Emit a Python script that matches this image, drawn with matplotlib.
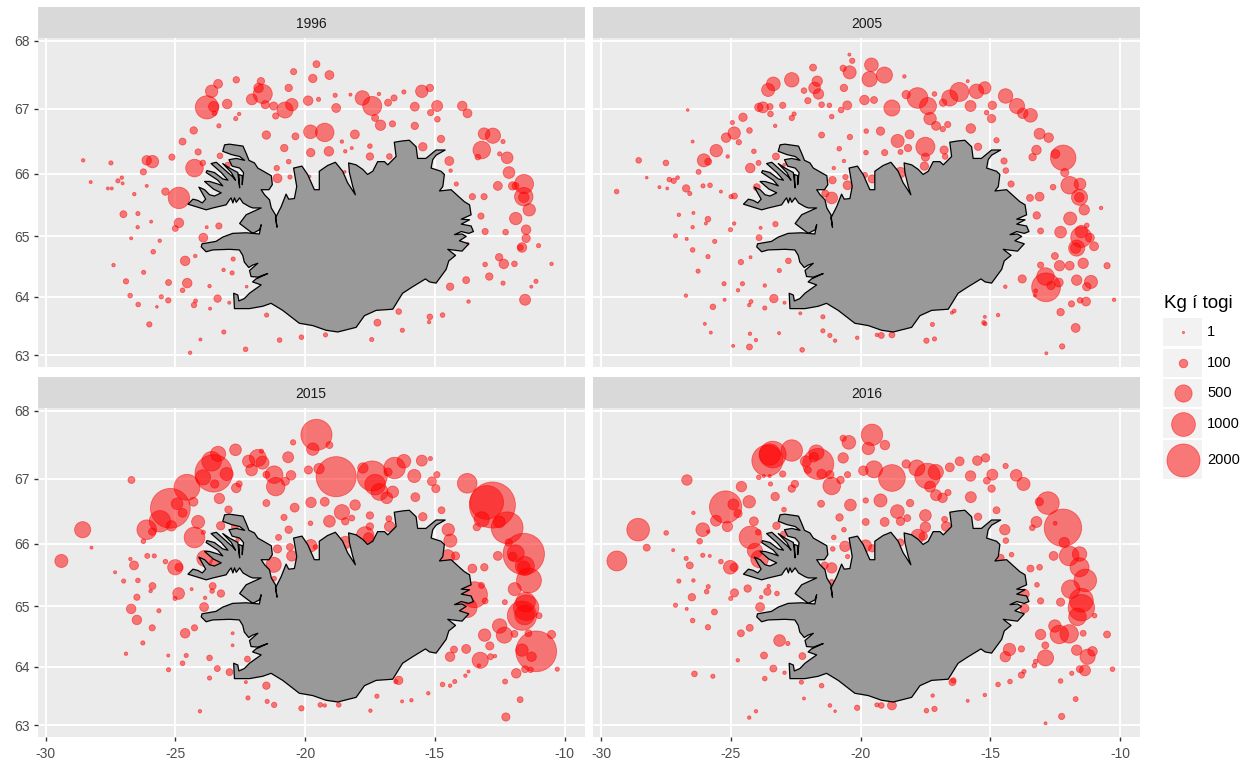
#!/usr/bin/env python3
"""Kg í togi: fjórar kortamyndir af Íslandi, 1996, 2005, 2015 og 2016"""

import numpy as np
import matplotlib
matplotlib.use('Agg')
import matplotlib.pyplot as plt
from matplotlib.patches import Polygon, Rectangle

plt.rcParams['font.family'] = ['Liberation Sans', 'DejaVu Sans']
plt.rcParams['axes.unicode_minus'] = False

years = [1996, 2005, 2015, 2016]
x_ticks = [-30, -25, -20, -15, -10]
y_ticks = [63, 64, 65, 66, 67, 68]
legend_kg = [1, 100, 500, 1000, 2000]

# (lon, lat, kg)
pts_1996 = [
    (-19.56,67.66,60),(-20.44,67.55,45),(-19.06,67.50,110),(-19.70,67.45,95),(-23.35,67.37,110),(-22.65,67.43,50),
    (-21.70,67.41,70),(-23.60,67.26,240),(-21.79,67.31,130),(-20.63,67.31,70),(-21.63,67.22,620),(-23.78,67.02,950),
    (-23.52,67.03,160),(-23.0,67.07,130),(-22.05,67.14,180),(-21.53,67.06,90),(-21.21,67.04,90),(-20.51,67.06,240),
    (-20.77,66.98,430),(-21.13,66.89,45),(-19.88,67.12,130),(-19.48,67.14,15),(-18.84,67.2,15),(-18.25,67.21,5),
    (-17.79,67.16,340),(-17.41,67.04,620),(-17.15,67.22,8),(-16.80,67.09,60),(-16.57,67.16,45),(-16.19,67.25,15),
    (-18.8,67.01,110),(-17.3,66.86,60),(-17.09,66.75,160),(-16.63,66.77,45),(-15.5,67.26,240),(-15.19,67.31,70),
    (-15.77,67.03,110),(-14.91,67.04,180),(-15.16,66.94,45),(-14.9,66.84,35),(-13.94,67.04,130),(-13.74,66.93,110),
    (-15.77,66.74,70),(-14.76,66.54,70),(-15.46,66.42,95),(-13.1,66.62,210),(-12.76,66.59,380),(-12.37,66.5,15),
    (-13.19,66.37,520),(-13.34,66.26,35),(-12.5,66.31,15),(-12.21,66.25,210),(-12.14,66.02,210),(-14.44,66.2,110),
    (-14.39,66.05,8),(-14.17,65.84,15),(-11.56,65.84,620),(-12.57,65.81,110),(-12.0,65.81,95),(-11.89,65.81,60),
    (-11.57,65.64,580),(-11.57,65.63,160),(-11.36,65.43,240),(-13.55,65.64,45),(-13.1,65.64,45),(-13.22,65.33,45),
    (-11.88,65.29,240),(-13.06,65.08,45),(-12.27,65.07,35),(-11.48,65.11,130),(-11.48,64.97,95),(-11.64,64.82,130),
    (-11.7,64.82,35),(-11.0,64.85,15),(-13.74,64.88,5),(-10.5,64.55,8),(-12.52,64.66,70),(-12.34,64.55,130),
    (-11.93,64.55,35),(-13.06,64.54,20),(-12.9,64.34,70),(-11.1,64.26,15),(-12.37,64.23,15),(-11.28,64.17,5),
    (-13.79,64.28,60),(-14.41,64.17,70),(-11.52,63.95,180),(-13.7,63.92,8),(-16.39,63.75,35),(-15.19,63.66,35),
    (-15.22,63.57,8),(-14.7,63.69,20),(-17.21,63.56,60),(-16.25,63.43,15),(-17.43,63.27,15),(-19.21,63.35,15),
    (-20.14,63.31,20),(-20.98,63.26,20),(-22.29,63.1,20),(-23.13,63.4,15),(-24.03,63.27,5),(-24.43,63.04,8),
    (-21.48,63.69,15),(-23.66,63.8,5),(-23.37,63.97,70),(-22.92,63.9,5),(-24.28,63.86,30),(-24.22,63.93,12),
    (-25.27,63.94,30),(-25.54,64.0,15),(-25.71,63.83,3),(-26.0,63.53,30),(-26.43,63.87,20),(-26.74,64.02,20),
    (-26.9,64.26,30),(-26.22,64.41,15),(-27.38,64.53,8),(-25.85,64.75,20),(-25.26,64.24,40),(-24.54,64.23,130),
    (-24.72,64.11,20),(-23.68,64.18,8),(-22.25,64.17,3),(-24.62,64.6,130),(-24.23,64.68,8),(-25.6,64.93,8),
    (-26.7,64.97,5),(-26.45,65.15,8),(-25.93,65.24,5),(-27.0,65.36,60),(-26.44,65.37,15),(-24.86,65.22,130),
    (-25.0,65.13,40),(-23.79,65.15,5),(-23.32,65.17,45),(-23.92,64.98,110),(-22.77,64.63,15),(-23.14,64.45,8),
    (-22.81,64.4,15),(-24.86,65.62,800),(-25.38,65.72,70),(-26.58,65.68,8),(-26.1,65.81,5),(-27.6,65.77,5),
    (-27.45,65.77,5),(-27.21,65.89,15),(-27.06,65.94,8),(-27.03,65.85,5),(-28.26,65.87,5),(-26.23,66.03,45),
    (-28.55,66.21,8),(-27.48,66.17,15),(-26.1,66.21,130),(-25.88,66.19,240),(-25.13,66.26,45),(-24.26,66.09,520),
    (-23.94,66.17,35),(-24.12,66.34,45),(-23.28,66.28,35),(-22.98,66.14,30),(-24.72,66.5,60),(-24.29,66.67,70),
    (-23.32,66.74,15),(-22.67,66.85,15),(-22.54,66.92,8),(-23.49,66.93,20),(-21.49,66.6,95),(-20.37,66.58,60),
    (-19.79,66.65,300),(-19.24,66.64,580),(-18.08,66.61,110),(-18.58,66.5,8),(-20.8,66.4,70),(-19.78,66.33,95),
    (-19.08,66.35,130),(-18.45,66.35,8),(-18.2,66.4,5),(-17.5,66.43,20),(-17.5,66.27,70),(-16.75,66.27,35),
    (-20.63,66.19,20),(-21.09,66.09,30),(-21.06,65.93,110),(-20.58,65.95,15),(-19.82,65.96,2),(-18.47,66.03,3),
]

pts_2005 = [
    (-20.43,67.8,5),(-20.32,67.71,30),(-19.58,67.65,300),(-20.67,67.6,45),(-20.42,67.54,270),(-21.83,67.61,60),
    (-19.08,67.5,430),(-19.65,67.44,380),(-18.31,67.48,8),(-22.65,67.43,340),(-23.36,67.37,300),(-23.56,67.28,270),
    (-21.67,67.41,160),(-21.77,67.31,210),(-21.62,67.22,160),(-20.64,67.31,70),(-22.18,67.27,35),(-22.03,67.12,45),
    (-15.87,67.41,5),(-16.19,67.25,620),(-15.21,67.31,240),(-15.53,67.26,340),(-16.56,67.16,430),(-17.15,67.22,20),
    (-18.24,67.21,95),(-17.8,67.16,740),(-17.4,67.04,480),(-16.82,67.09,70),(-15.76,67.04,180),(-14.92,67.05,95),
    (-14.41,67.19,340),(-13.97,67.04,380),(-13.75,66.93,160),(-13.45,66.9,300),(-15.14,66.94,20),(-14.95,66.85,95),
    (-19.85,67.13,130),(-19.48,67.13,60),(-18.79,67.01,430),(-20.51,67.05,110),(-20.75,66.98,35),(-21.2,67.05,20),
    (-21.5,67.06,35),(-23.0,67.05,45),(-23.49,67.03,45),(-23.76,67.02,180),(-23.92,67.02,95),(-23.47,66.92,35),
    (-22.65,66.86,30),(-22.56,66.92,15),(-21.11,66.88,20),(-26.66,66.98,3),(-24.53,66.87,95),(-24.94,66.79,15),
    (-23.29,66.74,8),(-24.28,66.67,35),(-24.87,66.63,240),(-25.18,66.56,130),(-24.69,66.49,30),(-26.47,66.5,5),
    (-25.56,66.36,240),(-24.11,66.35,20),(-25.12,66.27,8),(-26.04,66.21,270),(-25.87,66.19,60),(-26.24,66.03,25),
    (-28.55,66.21,35),(-27.5,66.17,35),(-28.24,65.94,3),(-27.37,65.91,20),(-27.2,65.89,30),(-27.05,65.94,10),
    (-27.75,65.79,5),(-27.45,65.77,4),(-26.72,65.77,70),(-26.58,65.69,15),(-26.07,65.81,15),(-25.8,65.82,20),
    (-25.38,65.72,5),(-24.99,65.64,15),(-24.86,65.65,40),(-29.4,65.72,20),(-27.0,65.35,8),(-26.44,65.38,5),
    (-25.88,65.28,35),(-25.96,65.21,5),(-26.47,65.15,8),(-24.87,65.21,8),(-25.01,65.11,15),(-23.85,65.14,5),
    (-23.28,65.2,30),(-27.13,65.01,15),(-26.7,64.96,5),(-25.62,64.92,15),(-23.91,64.98,40),(-26.47,64.78,20),
    (-25.88,64.67,15),(-24.24,64.66,5),(-24.61,64.58,30),(-22.78,64.6,35),(-23.13,64.44,15),(-26.26,64.43,15),
    (-25.26,64.22,15),(-24.55,64.22,15),(-24.72,64.11,8),(-23.69,64.19,8),(-26.73,64.02,8),(-25.24,63.95,5),
    (-24.22,63.92,12),(-24.29,63.86,8),(-23.34,63.97,95),(-23.69,63.81,15),(-22.93,63.9,5),(-25.69,63.83,35),
    (-22.32,63.72,5),(-21.45,63.66,15),(-26.0,63.54,5),(-25.77,63.39,5),(-24.26,63.37,8),(-23.14,63.38,5),
    (-24.03,63.26,8),(-24.91,63.16,5),(-24.28,63.14,40),(-22.25,63.09,20),(-21.45,63.42,15),(-21.18,63.34,15),
    (-20.98,63.25,8),(-20.13,63.3,8),(-19.37,63.35,8),(-19.2,63.34,40),(-18.79,63.35,40),(-17.46,63.25,30),
    (-17.15,63.28,15),(-17.23,63.53,15),(-16.48,63.73,5),(-16.39,63.76,12),(-15.21,63.66,5),(-15.25,63.56,15),
    (-15.2,63.54,12),(-14.7,63.69,8),(-12.84,63.03,5),(-12.23,63.15,30),(-11.71,63.47,110),(-12.29,63.74,70),
    (-11.87,63.88,45),(-11.54,63.94,35),(-11.31,63.92,110),(-10.23,63.95,8),(-12.85,64.16,1500),(-12.87,64.34,520),
    (-13.28,64.02,5),(-13.25,64.1,12),(-12.66,64.19,95),(-12.36,64.24,110),(-13.06,64.53,45),(-12.51,64.68,60),
    (-12.33,64.52,160),(-11.94,64.52,110),(-11.42,64.56,160),(-10.5,64.52,45),(-11.67,64.28,160),(-11.12,64.25,270),
    (-11.28,64.17,95),(-13.77,64.3,90),(-14.42,64.17,8),(-14.2,65.84,45),(-14.4,66.05,35),(-14.47,66.2,45),
    (-14.76,66.52,30),(-15.47,66.42,70),(-15.75,66.7,130),(-16.64,66.76,45),(-16.83,66.69,30),(-17.09,66.74,110),
    (-17.32,66.85,240),(-18.11,66.61,110),(-18.57,66.51,270),(-19.23,66.66,95),(-19.78,66.66,20),(-20.41,66.57,30),
    (-21.5,66.6,40),(-18.17,66.4,70),(-18.46,66.34,25),(-17.5,66.42,620),(-17.5,66.26,90),(-17.54,66.12,95),
    (-16.78,66.37,90),(-16.74,66.27,35),(-19.07,66.33,45),(-19.79,66.33,20),(-20.82,66.39,20),(-20.64,66.2,8),
    (-21.03,66.09,8),(-21.08,65.9,70),(-20.58,65.95,30),(-20.5,65.82,110),(-19.83,65.98,30),(-19.55,65.92,90),
    (-18.46,66.02,160),(-21.11,65.62,210),(-21.36,65.69,60),(-23.26,66.27,60),(-23.93,66.17,25),(-24.25,66.09,130),
    (-22.94,66.14,5),(-24.0,65.79,60),(-13.47,65.62,60),(-13.1,65.64,110),(-12.58,65.79,35),(-13.1,66.62,180),
    (-12.75,66.56,130),(-13.22,66.37,130),(-13.37,66.26,70),(-12.19,66.25,1150),(-12.49,66.31,110),(-12.13,66.02,90),
    (-11.94,65.82,520),(-11.54,65.84,210),(-11.56,65.63,430),(-11.57,65.63,130),(-11.38,65.43,160),(-10.73,65.46,8),
    (-11.92,65.29,270),(-13.21,65.34,70),(-13.06,65.09,40),(-12.29,65.07,210),(-11.28,65.18,20),(-11.49,65.08,240),
    (-11.5,64.99,740),(-11.16,64.98,110),(-11.67,64.81,430),(-11.71,64.81,160),(-11.0,64.84,110),
]

pts_2015 = [
    (-19.56,67.65,1760),(-19.70,67.44,240),(-19.06,67.5,60),(-20.46,67.54,30),(-22.68,67.43,210),(-23.35,67.37,380),
    (-23.6,67.26,660),(-23.52,67.08,2600),(-23.93,67.02,380),(-23.02,67.07,270),(-23.48,66.92,95),(-24.55,66.87,1200),
    (-25.19,66.55,2950),(-24.93,66.62,210),(-24.72,66.48,110),(-25.59,66.35,800),(-25.15,66.28,160),(-26.1,66.22,660),
    (-25.89,66.19,70),(-26.23,66.04,20),(-26.69,66.98,60),(-24.3,66.65,110),(-24.12,66.34,270),(-24.26,66.1,740),
    (-23.92,66.18,15),(-23.25,66.28,95),(-22.95,66.53,70),(-23.3,66.7,160),(-22.65,66.86,130),(-22.54,66.92,45),
    (-28.57,66.22,430),(-29.39,65.73,270),(-28.23,65.94,5),(-26.73,65.76,8),(-26.59,65.66,110),(-26.08,65.81,25),
    (-25.81,65.81,15),(-25.38,65.72,20),(-25.0,65.63,380),(-24.86,65.63,90),(-23.86,65.77,430),(-27.32,65.55,5),
    (-26.99,65.41,15),(-26.44,65.42,20),(-25.88,65.33,60),(-25.95,65.25,8),(-26.48,65.15,45),(-24.87,65.21,210),
    (-25.01,65.13,15),(-24.37,65.28,5),(-23.56,65.33,60),(-23.58,65.25,20),(-23.24,65.21,70),(-23.85,65.14,8),
    (-23.89,64.99,110),(-26.7,64.96,130),(-25.63,64.93,15),(-26.48,64.78,130),(-25.89,64.65,45),(-24.26,64.65,45),
    (-24.62,64.56,130),(-26.25,64.4,15),(-26.9,64.22,8),(-25.27,64.19,5),(-24.58,64.19,15),(-24.72,64.06,20),
    (-23.68,64.15,35),(-22.79,64.56,5),(-22.79,64.36,4),(-22.22,64.13,40),(-25.26,63.95,15),(-23.38,63.97,40),
    (-23.68,63.81,15),(-22.91,63.91,60),(-22.28,63.74,5),(-21.49,63.68,70),(-22.2,63.47,15),(-21.46,63.41,15),
    (-21.19,63.35,30),(-24.05,63.24,8),(-20.14,63.29,30),(-19.41,63.35,20),(-19.24,63.34,8),(-18.7,63.35,20),
    (-17.48,63.25,8),(-17.23,63.5,15),(-16.5,63.75,15),(-16.39,63.77,95),(-16.26,63.41,5),(-15.9,63.43,8),
    (-15.25,63.55,8),(-14.7,63.7,20),(-14.41,63.68,8),(-14.23,63.75,15),(-13.82,63.85,8),(-13.7,63.92,5),
    (-12.26,63.14,90),(-11.71,63.44,40),(-12.29,63.75,25),(-11.86,63.89,130),(-11.52,63.96,60),(-11.31,63.95,35),
    (-10.28,63.96,15),(-11.09,64.26,3100),(-11.64,64.28,240),(-11.27,64.17,130),(-13.25,64.11,430),(-13.3,64.02,8),
    (-12.85,64.17,40),(-12.68,64.18,8),(-12.88,64.35,90),(-13.79,64.3,110),(-14.26,64.29,60),(-14.41,64.17,130),
    (-13.08,64.53,240),(-12.32,64.53,430),(-12.5,64.68,340),(-11.93,64.55,60),(-11.39,64.56,60),(-10.5,64.54,90),
    (-13.47,65.19,1200),(-13.75,64.98,660),(-13.2,65.34,40),(-13.06,65.09,40),(-12.3,65.07,25),(-13.55,65.61,110),
    (-13.09,65.63,70),(-11.92,65.28,270),(-11.37,65.42,1100),(-11.53,65.65,620),(-11.57,65.63,240),(-11.57,65.84,3200),
    (-11.88,65.85,480),(-12.0,65.8,110),(-12.57,65.81,110),(-12.15,66.02,70),(-12.21,66.25,1850),(-12.51,66.34,210),
    (-12.78,66.6,4000),(-13.0,66.64,2100),(-13.75,66.93,660),(-13.19,66.38,380),(-13.38,66.26,70),(-11.48,64.98,1150),
    (-11.5,65.07,660),(-11.64,64.85,1550),(-11.54,64.86,660),(-10.98,64.85,40),(-14.48,66.22,240),(-14.4,66.05,270),
    (-14.2,65.81,90),(-14.5,65.8,300),(-14.74,66.52,60),(-15.46,66.42,95),(-15.75,66.72,110),(-15.11,66.96,110),
    (-14.96,66.85,90),(-14.92,67.06,45),(-15.17,67.3,15),(-15.5,67.27,180),(-15.79,67.04,270),(-16.19,67.26,300),
    (-16.55,67.16,800),(-16.8,67.1,90),(-16.62,66.8,210),(-16.85,66.71,210),(-17.13,66.8,480),(-17.3,66.91,740),
    (-17.41,67.04,1650),(-17.77,67.16,160),(-18.8,67.03,3000),(-19.46,67.15,160),(-19.87,67.13,90),(-20.65,67.32,180),
    (-20.54,67.05,130),(-20.76,66.96,90),(-21.13,66.88,580),(-21.19,67.06,520),(-21.49,67.06,60),(-21.64,67.24,270),
    (-21.82,67.31,480),(-21.68,67.41,15),(-22.17,67.26,240),(-22.06,67.13,210),(-19.77,66.64,160),(-19.24,66.65,110),
    (-18.07,66.6,160),(-18.58,66.49,380),(-20.4,66.56,110),(-21.49,66.63,60),(-20.81,66.41,45),(-19.79,66.32,20),
    (-19.06,66.35,210),(-18.45,66.35,70),(-18.2,66.4,40),(-17.5,66.44,70),(-17.5,66.27,70),(-16.77,66.39,40),
    (-16.74,66.27,160),(-17.68,66.13,520),(-17.56,66.1,130),(-20.63,66.22,70),(-21.02,66.1,40),(-21.06,65.92,90),
    (-20.58,65.95,60),(-20.51,65.81,160),(-19.78,65.97,240),(-19.6,65.95,20),(-18.45,66.02,240),(-21.21,65.67,380),
    (-21.19,65.45,20),(-22.7,66.27,60),(-23.5,65.69,130),(-22.6,66.06,8),
]

pts_2016 = [
    (-19.56,67.65,800),(-19.7,67.45,240),(-19.06,67.5,130),(-20.67,67.6,45),(-20.45,67.54,300),(-20.67,67.31,160),
    (-22.65,67.42,800),(-23.38,67.36,1280),(-23.59,67.27,1760),(-23.5,67.36,800),(-21.7,67.39,380),(-21.8,67.32,130),
    (-21.63,67.22,1760),(-22.11,67.26,180),(-22.03,67.13,60),(-21.5,67.07,130),(-21.18,67.06,90),(-20.5,67.06,45),
    (-20.77,66.98,70),(-21.11,66.89,520),(-19.89,67.12,130),(-19.48,67.14,480),(-18.79,67.01,1280),(-18.24,67.22,95),
    (-17.83,67.16,430),(-17.42,67.04,1150),(-17.1,67.1,380),(-17.32,66.88,180),(-17.09,66.75,180),(-16.84,66.71,130),
    (-16.63,66.79,45),(-16.56,67.17,110),(-16.18,67.26,110),(-15.5,67.27,130),(-15.18,67.31,95),(-15.76,67.04,160),
    (-14.92,67.06,180),(-14.41,67.19,30),(-14.0,67.05,210),(-13.72,66.92,270),(-15.13,66.97,60),(-14.95,66.85,70),
    (-15.75,66.72,180),(-14.76,66.52,60),(-15.47,66.42,70),(-13.22,66.34,180),(-13.38,66.25,35),(-12.78,66.63,900),
    (-13.11,66.65,90),(-12.2,66.25,2600),(-12.5,66.32,12),(-12.15,66.02,160),(-11.96,65.81,660),(-11.56,65.84,340),
    (-11.56,65.63,620),(-11.34,65.42,900),(-11.9,65.28,580),(-12.56,65.81,110),(-14.44,66.22,160),(-14.4,66.05,35),
    (-14.18,65.83,20),(-14.6,65.78,60),(-13.45,65.61,60),(-13.1,65.63,35),(-13.2,65.35,20),(-13.06,65.09,45),
    (-12.29,65.07,90),(-11.49,65.1,1000),(-11.49,64.98,1250),(-11.64,64.83,520),(-10.98,64.85,20),(-13.7,65.2,160),
    (-13.68,64.97,110),(-12.51,64.68,240),(-12.34,64.54,580),(-11.96,64.55,580),(-13.06,64.54,160),(-11.42,64.56,40),
    (-10.5,64.54,60),(-12.88,64.36,60),(-13.8,64.3,45),(-14.26,64.29,240),(-14.42,64.17,160),(-12.87,64.15,430),
    (-11.67,64.28,160),(-11.06,64.26,130),(-11.25,64.17,380),(-13.25,64.09,20),(-13.3,64.02,20),(-11.55,63.96,60),
    (-11.35,63.94,180),(-10.29,63.96,20),(-11.86,63.89,15),(-12.29,63.76,20),(-13.7,63.92,15),(-13.8,63.86,45),
    (-14.24,63.75,20),(-14.7,63.7,20),(-15.21,63.52,8),(-15.87,63.42,5),(-16.46,63.74,60),(-16.42,63.77,30),
    (-17.22,63.51,8),(-17.15,63.28,30),(-17.46,63.25,20),(-18.79,63.34,110),(-19.2,63.34,35),(-19.37,63.35,15),
    (-20.13,63.3,30),(-20.98,63.24,3),(-21.18,63.34,10),(-22.18,63.46,5),(-21.5,63.68,20),(-22.28,63.74,15),
    (-23.69,63.8,20),(-23.36,63.97,60),(-22.93,63.9,8),(-24.03,63.24,8),(-24.29,63.13,8),(-12.87,63.03,5),
    (-12.25,63.15,45),(-11.71,63.45,25),(-26.4,63.88,35),(-25.69,63.84,15),(-24.73,64.11,8),(-23.72,64.19,60),
    (-22.24,64.18,60),(-23.12,64.44,210),(-22.8,64.39,15),(-24.61,64.56,60),(-24.27,64.65,60),(-26.47,64.77,20),
    (-25.88,64.66,30),(-25.63,64.91,40),(-26.7,64.96,5),(-27.13,65.02,15),(-26.5,65.15,70),(-25.93,65.24,20),
    (-25.87,65.32,15),(-27.0,65.41,15),(-26.44,65.42,8),(-25.0,65.13,15),(-24.86,65.22,90),(-24.35,65.29,70),
    (-23.83,65.15,8),(-23.59,65.24,70),(-23.22,65.21,20),(-23.54,65.33,8),(-23.87,64.99,110),(-27.49,66.17,20),
    (-26.72,65.77,15),(-26.58,65.66,60),(-26.08,65.82,15),(-25.81,65.81,5),(-25.38,65.72,20),(-25.02,65.63,300),
    (-24.87,65.63,90),(-27.22,65.9,5),(-28.24,65.94,60),(-28.57,66.22,900),(-29.39,65.73,680),(-26.69,66.98,160),
    (-26.44,66.48,8),(-26.08,66.22,300),(-25.87,66.19,8),(-26.2,66.04,35),(-25.2,66.57,1900),(-24.9,66.61,180),
    (-24.72,66.47,90),(-25.57,66.36,180),(-25.13,66.27,160),(-24.29,66.65,240),(-24.59,66.88,160),(-23.92,67.02,20),
    (-23.73,67.04,5),(-23.5,67.04,5),(-23.0,67.07,45),(-23.47,66.92,15),(-22.65,66.85,70),(-22.53,66.92,70),
    (-23.29,66.73,95),(-22.95,66.53,20),(-24.11,66.35,110),(-24.24,66.1,900),(-23.94,66.18,35),(-23.24,66.28,70),
    (-24.07,65.89,380),(-23.89,65.76,520),(-22.97,66.15,40),(-21.52,66.62,60),(-20.39,66.6,210),(-19.8,66.67,30),
    (-19.23,66.67,270),(-18.09,66.63,70),(-18.58,66.5,300),(-18.2,66.4,60),(-18.46,66.35,95),(-19.07,66.34,110),
    (-19.8,66.34,60),(-20.81,66.41,70),(-20.64,66.22,20),(-21.03,66.1,20),(-21.07,65.92,20),(-20.5,65.8,15),
    (-20.6,65.96,160),(-19.8,65.97,210),(-19.55,65.93,70),(-18.47,66.02,70),(-17.5,66.44,210),(-17.5,66.26,160),
    (-17.79,66.12,300),(-17.58,66.12,90),(-16.76,66.38,40),(-16.7,66.27,130),(-21.11,65.62,160),(-21.38,65.66,60),
    (-21.11,65.4,20),
]

# Iceland coastline (lon, lat), clockwise from the Westfjords
coast = [
    (-24.51,65.52),(-24.32,65.60),(-24.13,65.58),(-23.96,65.54),(-23.83,65.60),(-24.09,65.79),(-23.87,65.75),(-23.68,65.67),
    (-23.49,65.65),(-23.23,65.70),(-23.53,65.76),(-23.87,65.88),(-23.68,65.88),(-23.36,65.84),(-23.17,65.81),(-23.36,65.90),
    (-23.81,66.02),(-23.78,66.05),(-23.49,66.02),(-23.17,65.92),(-22.97,65.90),(-23.23,66.02),(-23.62,66.16),(-23.42,66.18),
    (-23.17,66.09),(-22.78,65.95),(-22.68,65.90),(-22.84,66.02),(-23.17,66.16),(-22.91,66.09),(-22.59,66.02),(-22.52,65.78),
    (-22.55,65.99),(-22.42,65.97),(-22.42,65.83),(-22.37,66.02),(-22.52,66.09),(-22.81,66.12),(-22.93,66.22),(-22.65,66.24),
    (-22.33,66.21),(-22.52,66.27),(-22.84,66.30),(-23.17,66.35),(-23.10,66.45),(-22.91,66.46),(-22.39,66.43),(-22.27,66.32),
    (-22.16,66.21),(-21.95,66.17),(-21.82,66.09),(-21.56,66.03),(-21.30,65.97),(-21.26,65.83),(-21.39,65.75),(-21.69,65.75),
    (-21.56,65.67),(-21.37,65.59),(-21.30,65.46),(-21.14,65.35),(-21.08,65.15),(-21.14,65.30),(-20.92,65.48),(-20.73,65.68),
    (-20.63,65.6),(-20.41,65.61),(-20.32,65.8),(-20.44,66.09),(-20.12,66.12),(-19.9,65.99),(-19.64,65.75),(-19.45,65.75),
    (-19.45,66.04),(-19.13,66.13),(-18.83,66.18),(-18.55,66.04),(-18.36,65.86),(-18.06,65.67),(-18.16,65.8),(-18.29,66.02),
    (-18.32,66.17),(-18.03,66.14),(-17.78,66.07),(-17.59,65.99),(-17.39,66.04),(-17.2,66.19),(-16.94,66.19),(-16.81,66.14),
    (-16.49,66.27),(-16.56,66.49),(-16.24,66.51),(-15.98,66.52),(-15.72,66.42),(-15.66,66.24),(-15.34,66.24),(-14.95,66.37),
    (-14.6,66.37),(-14.95,66.29),(-15.08,66.22),(-15.14,66.09),(-14.76,66.04),(-14.63,65.99),(-14.69,65.8),(-14.82,65.73),
    (-14.37,65.75),(-14.05,65.63),(-13.86,65.56),(-13.66,65.51),(-13.6,65.35),(-13.98,65.28),(-13.66,65.27),(-13.98,65.2),
    (-13.6,65.17),(-13.51,65.08),(-13.69,65.05),(-13.98,65.08),(-14.24,65.03),(-13.95,65.04),(-13.79,65.0),(-14.05,64.93),
    (-13.69,64.88),(-13.95,64.76),(-14.5,64.79),(-14.2,64.69),(-14.46,64.6),(-14.56,64.46),(-14.95,64.23),(-15.2,64.25),
    (-15.36,64.3),(-15.85,64.17),(-16.24,64.06),(-16.62,63.79),(-17.26,63.77),(-17.71,63.68),(-18.03,63.48),(-18.74,63.4),
    (-19.19,63.43),(-19.7,63.51),(-20.22,63.55),(-20.86,63.77),(-21.31,63.89),(-21.63,63.84),(-22.14,63.8),(-22.59,63.8),
    (-22.72,63.8),(-22.75,64.06),(-22.59,64.03),(-22.55,63.93),(-22.34,63.97),(-22.14,64.06),(-21.95,64.12),(-21.69,64.2),
    (-22.02,64.25),(-21.89,64.30),(-21.44,64.39),(-21.82,64.33),(-22.08,64.34),(-22.14,64.44),(-21.82,64.56),(-22.02,64.53),
    (-22.17,64.49),(-22.34,64.58),(-22.4,64.69),(-22.53,64.78),(-22.91,64.79),(-23.56,64.78),(-23.81,64.75),(-24.0,64.83),
    (-23.97,64.88),(-23.43,64.92),(-23.17,64.99),(-22.79,65.05),(-22.27,65.06),(-21.76,65.04),(-21.69,65.19),(-21.75,65.11),
    (-22.01,65.05),(-22.27,65.13),(-22.52,65.21),(-22.27,65.35),(-22.01,65.40),(-21.69,65.46),(-22.01,65.46),(-22.14,65.48),
    (-22.39,65.54),(-22.52,65.62),(-22.65,65.55),(-22.72,65.62),(-22.78,65.54),(-22.85,65.62),(-22.91,65.59),(-23.04,65.51),
    (-23.55,65.46),(-23.81,65.43),
]

all_pts = [pts_1996, pts_2005, pts_2015, pts_2016]


# mercator, same as coord_map
def merc(lat):
    return np.log(np.tan(np.pi / 4 + np.radians(lat) / 2))


def merc_inv(y):
    return np.degrees(2 * np.arctan(np.exp(y)) - np.pi / 2)


def kg_to_s(kg):
    d_px = 1.5 + 31.5 * np.sqrt(np.asarray(kg, dtype=float) / 2000)
    return (d_px * 0.72) ** 2


W, H = 1253, 764
fig = plt.figure(figsize=(W / 100, H / 100), dpi=100, facecolor='white')

lefts = [37.5, 593, 37.5, 593]
tops = [38, 38, 408, 408]
pw, ph = 547, 329
strip_h = 31

for i, year in enumerate(years):
    ax = fig.add_axes([lefts[i] / W, 1 - (tops[i] + ph) / H, pw / W, ph / H], facecolor='#EBEBEB')
    ax.set_yscale('function', functions=(merc, merc_inv))
    ax.set_xlim(-30.31, -9.23)
    ax.set_ylim(62.79, 68.04)
    ax.set_xticks(x_ticks)
    ax.set_yticks(y_ticks)
    ax.minorticks_off()
    ax.grid(True, color='white', lw=1.3)
    ax.set_axisbelow(True)
    for s in ax.spines.values():
        s.set_visible(False)
    ax.tick_params(length=2.9, width=1, color='#333333', labelcolor='#4D4D4D', labelsize=10,
                   bottom=i >= 2, labelbottom=i >= 2, left=i % 2 == 0, labelleft=i % 2 == 0)
    ax.tick_params(axis='x', pad=4)
    ax.tick_params(axis='y', pad=3)

    lon, lat, kg = zip(*all_pts[i])
    ax.scatter(lon, lat, s=kg_to_s(kg), facecolor=(1, 0, 0, 0.5), edgecolor=(1, 0, 0, 0.5), linewidth=0.6, zorder=2)
    ax.add_patch(Polygon(coast, closed=True, facecolor='#999999', edgecolor='black', lw=0.9, joinstyle='round', zorder=3))

    strip = fig.add_axes([lefts[i] / W, 1 - tops[i] / H, pw / W, strip_h / H], facecolor='#D9D9D9')
    strip.set_xticks([])
    strip.set_yticks([])
    for s in strip.spines.values():
        s.set_visible(False)
    strip.text(0.5, 0.46, str(year), transform=strip.transAxes, ha='center', va='center', fontsize=10, color='#1A1A1A')

# legend, in pixels
leg = fig.add_axes([0, 0, 1, 1], facecolor='none')
leg.set_xlim(0, W)
leg.set_ylim(H, 0)
leg.axis('off')
leg.text(1163.5, 304, 'Kg í togi', fontsize=13.6, va='center', ha='left', color='black')
key_top = [318, 348.5, 378.5, 409, 440]
key_bot = [346, 376.5, 407, 438, 479]
for kg, t, b in zip(legend_kg, key_top, key_bot):
    leg.add_patch(Rectangle((1163, t), 39, b - t, facecolor='#F2F2F2', edgecolor='none'))
    leg.scatter([1182.5], [(t + b) / 2], s=kg_to_s(kg), facecolor=(1, 0, 0, 0.5), edgecolor=(1, 0, 0, 0.5), linewidth=0.6)
    leg.text(1207, (t + b) / 2 + 0.5, str(kg), fontsize=10.5, va='center', ha='left', color='black')

fig.savefig('out.png', dpi=100)
